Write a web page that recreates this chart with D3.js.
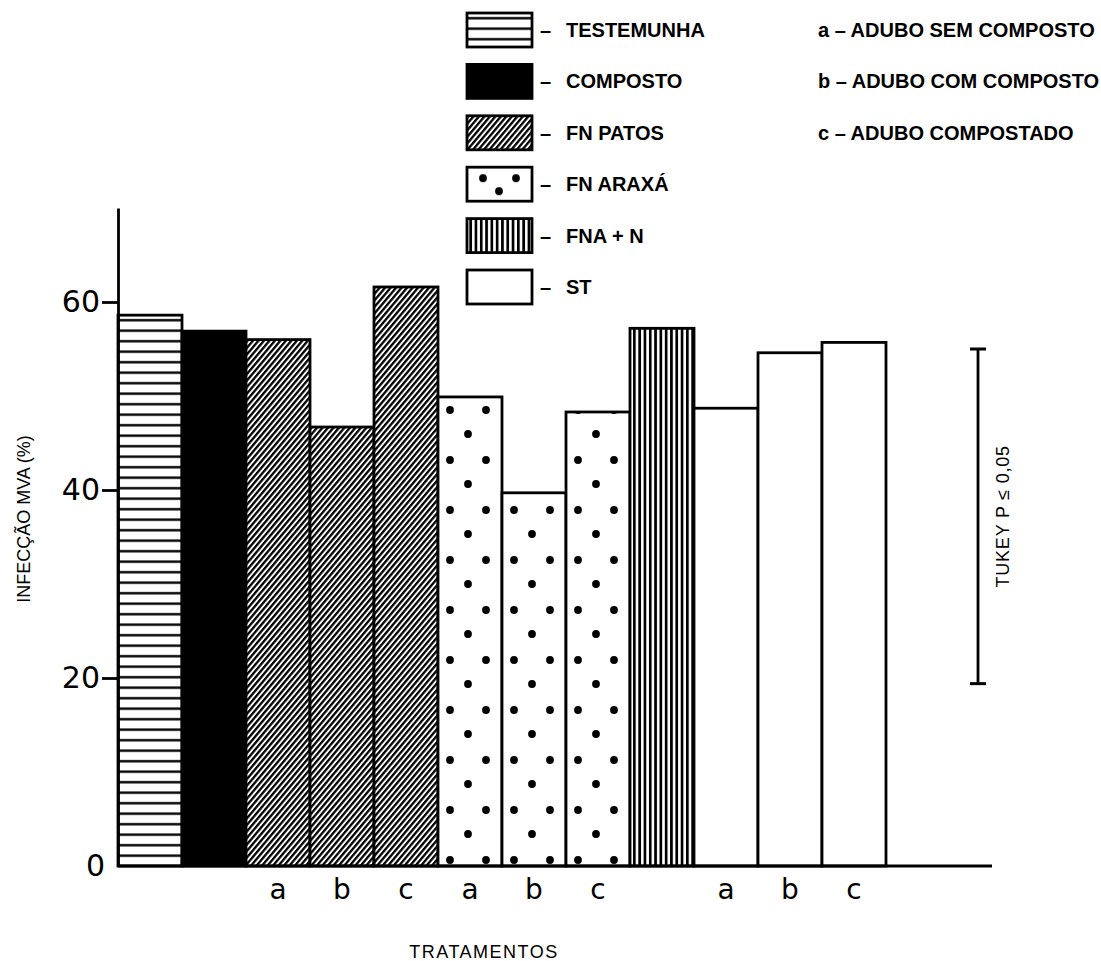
<!DOCTYPE html>
<html>
<head>
<meta charset="utf-8">
<script src="https://cdn.jsdelivr.net/npm/d3@7"></script>
<style>
  body { margin: 0; background: #fff; }
  text { fill: #000; }
</style>
</head>
<body>
<div id="chart_box"></div>
<script>
// data
var treatments = ["testemunha", "composto", "patos", "patos", "patos", "araxa", "araxa", "araxa", "fnan", "st", "st", "st"];
var subLabels = ["", "", "a", "b", "c", "a", "b", "c", "", "a", "b", "c"];
var infeccao = [58.6, 56.9, 56.0, 46.7, 61.6, 49.9, 39.7, 48.3, 57.2, 48.7, 54.6, 55.7];
var yTicks = [0, 20, 40, 60];
var legendKeys = ["testemunha", "composto", "patos", "araxa", "fnan", "st"];
var legendNames = ["TESTEMUNHA", "COMPOSTO", "FN PATOS", "FN ARAXÁ", "FNA + N", "ST"];
var subNames = ["a – ADUBO SEM COMPOSTO", "b – ADUBO COM COMPOSTO", "c – ADUBO COMPOSTADO"];
var tukeyRange = [19.4, 55.0];

var width = 1101, height = 961;
var lineW = 2.8;

var svg = d3.select("#chart_box").append("svg")
    .attr("width", width)
    .attr("height", height)
    .style("font-family", "'Liberation Sans', Arial, sans-serif");

var y = d3.scaleLinear().domain([0, 70]).range([866, 208]);
var x = d3.scaleBand().domain(d3.range(infeccao.length)).range([118, 886]).padding(0);

// fill patterns
var defs = svg.append("defs");

var hl = defs.append("pattern").attr("id", "testemunha")
    .attr("patternUnits", "userSpaceOnUse").attr("width", 10).attr("height", 10.5);
hl.append("rect").attr("width", 10).attr("height", 10.5).attr("fill", "#fff");
hl.append("rect").attr("y", 4).attr("width", 10).attr("height", 2.4).attr("fill", "#000");

defs.append("pattern").attr("id", "composto")
    .attr("patternUnits", "userSpaceOnUse").attr("width", 10).attr("height", 10)
    .append("rect").attr("width", 10).attr("height", 10).attr("fill", "#000");

var ht = defs.append("pattern").attr("id", "patos")
    .attr("patternUnits", "userSpaceOnUse").attr("width", 4.2).attr("height", 4.2)
    .attr("patternTransform", "rotate(40)");
ht.append("rect").attr("width", 4.2).attr("height", 4.2).attr("fill", "#fff");
ht.append("rect").attr("width", 2.3).attr("height", 4.2).attr("fill", "#000");

var vl = defs.append("pattern").attr("id", "fnan")
    .attr("patternUnits", "userSpaceOnUse").attr("x", 633).attr("width", 5.3).attr("height", 10);
vl.append("rect").attr("width", 5.3).attr("height", 10).attr("fill", "#fff");
vl.append("rect").attr("width", 2.7).attr("height", 10).attr("fill", "#000");

defs.append("pattern").attr("id", "st")
    .attr("patternUnits", "userSpaceOnUse").attr("width", 10).attr("height", 10)
    .append("rect").attr("width", 10).attr("height", 10).attr("fill", "#fff");

function dotPattern(id, x0, y0, w, h, pts) {
    var p = defs.append("pattern").attr("id", id)
        .attr("patternUnits", "userSpaceOnUse")
        .attr("x", x0).attr("y", y0).attr("width", w).attr("height", h);
    p.append("rect").attr("width", w).attr("height", h).attr("fill", "#fff");
    pts.forEach(function (d) {
        p.append("circle").attr("cx", d[0]).attr("cy", d[1]).attr("r", 3.9).attr("fill", "#000");
    });
}
dotPattern("araxa", 118, 10, x.bandwidth(), 50, [[12, 0], [48, 0], [12, 50], [48, 50], [30, 24]]);
// legend boxes sit in a translated group, so this one starts at 0,0
dotPattern("araxaLeg", 0, 0, 65, 34, [[16, 11], [49, 11], [32, 24]]);

// bars
svg.append("g").selectAll("rect")
    .data(infeccao)
    .enter().append("rect")
    .attr("x", function (d, i) { return x(i); })
    .attr("y", function (d) { return y(d); })
    .attr("width", x.bandwidth())
    .attr("height", function (d) { return y(0) - y(d); })
    .attr("fill", function (d, i) { return "url(#" + treatments[i] + ")"; })
    .attr("stroke", "#000")
    .attr("stroke-width", lineW);

// baseline
svg.append("line")
    .attr("x1", 118).attr("x2", 992)
    .attr("y1", y(0)).attr("y2", y(0))
    .attr("stroke", "#000").attr("stroke-width", lineW);

// y axis
var yAxis = svg.append("g")
    .attr("transform", "translate(118,0)")
    .call(d3.axisLeft(y).tickValues(yTicks).tickSize(16).tickSizeOuter(0).tickPadding(2));
yAxis.select(".domain").attr("stroke-width", lineW);
yAxis.selectAll(".tick line").attr("stroke-width", lineW);
yAxis.selectAll(".tick text")
    .style("font-family", "'DejaVu Sans', sans-serif")
    .style("font-size", "30px")
    .attr("fill", "#000");
yAxis.selectAll(".tick").filter(function (d) { return d === 0; })
    .call(function (t) {
        t.select("line").remove();
        t.select("text").attr("x", -13);
    });

svg.append("text")
    .attr("transform", "translate(30,519) rotate(-90)")
    .attr("text-anchor", "middle")
    .style("font-size", "18px")
    .text("INFECÇÃO MVA (%)");

// sub-group letters under bars
svg.append("g").selectAll("text")
    .data(subLabels)
    .enter().append("text")
    .attr("x", function (d, i) { return x(i) + x.bandwidth() / 2; })
    .attr("y", 899)
    .attr("text-anchor", "middle")
    .style("font-family", "'DejaVu Sans', sans-serif")
    .style("font-size", "28px")
    .text(function (d) { return d; });

svg.append("text")
    .attr("x", 484).attr("y", 958)
    .attr("text-anchor", "middle")
    .style("font-size", "18px")
    .style("letter-spacing", "1.5px")
    .text("TRATAMENTOS");

// Tukey bar
var tk = svg.append("g");
tk.append("line")
    .attr("x1", 978).attr("x2", 978)
    .attr("y1", y(tukeyRange[0])).attr("y2", y(tukeyRange[1]))
    .attr("stroke", "#000").attr("stroke-width", lineW);
tk.selectAll(".cap")
    .data(tukeyRange)
    .enter().append("line")
    .attr("x1", 970).attr("x2", 986)
    .attr("y1", function (d) { return y(d); })
    .attr("y2", function (d) { return y(d); })
    .attr("stroke", "#000").attr("stroke-width", 3);
tk.append("text")
    .attr("transform", "translate(1009," + (y(tukeyRange[0]) + y(tukeyRange[1])) / 2 + ") rotate(-90)")
    .attr("text-anchor", "middle")
    .style("font-size", "18px")
    .style("letter-spacing", "0.8px")
    .text("TUKEY P ≤ 0,05");

// legend
var legTop = 13, legStep = 51.4, boxW = 65, boxH = 34;

var leg = svg.append("g").selectAll("g")
    .data(legendKeys)
    .enter().append("g")
    .attr("transform", function (d, i) { return "translate(467," + (legTop + i * legStep) + ")"; });

leg.append("rect")
    .attr("width", boxW).attr("height", boxH)
    .attr("fill", function (d) { return d === "araxa" ? "url(#araxaLeg)" : "url(#" + d + ")"; })
    .attr("stroke", "#000").attr("stroke-width", lineW);

leg.append("text")
    .attr("x", 73).attr("y", 24)
    .style("font-size", "20px")
    .style("font-weight", "bold")
    .text("–");

leg.append("text")
    .attr("x", 99).attr("y", 24)
    .style("font-size", "20px")
    .style("font-weight", "bold")
    .text(function (d, i) { return legendNames[i]; });

svg.append("g").selectAll("text")
    .data(subNames)
    .enter().append("text")
    .attr("x", 818)
    .attr("y", function (d, i) { return legTop + i * legStep + 24; })
    .style("font-size", "20px")
    .style("font-weight", "bold")
    .text(function (d) { return d; });
</script>
</body>
</html>
